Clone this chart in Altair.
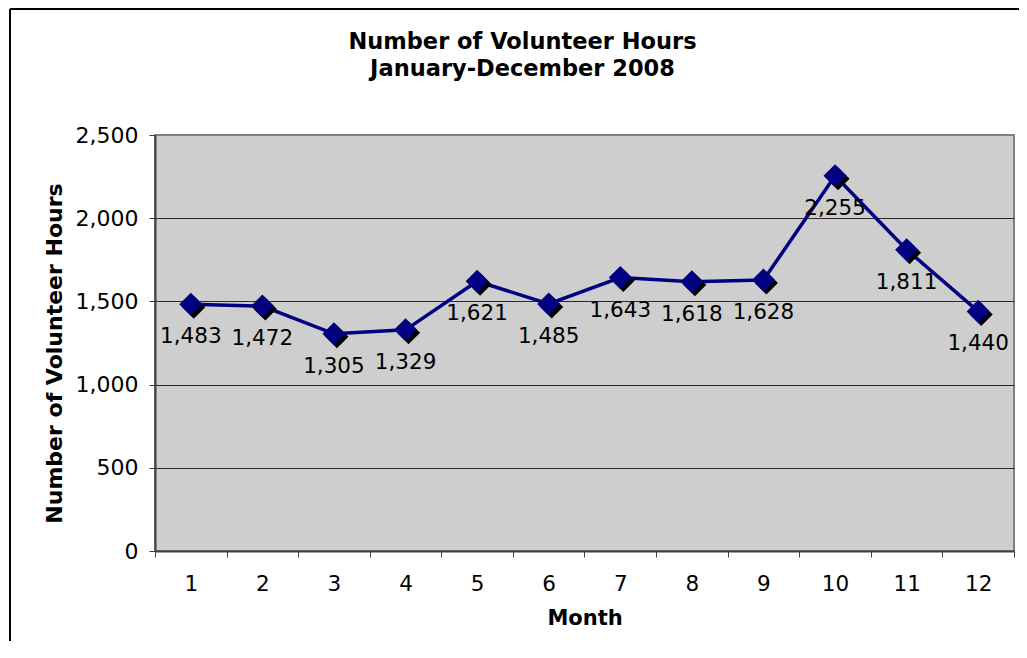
import altair as alt
import pandas as pd

months = [1, 2, 3, 4, 5, 6, 7, 8, 9, 10, 11, 12]
hours = [1483, 1472, 1305, 1329, 1621, 1485, 1643, 1618, 1628, 2255, 1811, 1440]
y_ticks = [0, 500, 1000, 1500, 2000, 2500]

df = pd.DataFrame({"month": months, "hours": hours})

FONT = "DejaVu Sans"
NAVY = "#000080"
W, H = 859, 416
PAD = {"left": 147, "top": 127, "right": 5, "bottom": 90}

x_enc = alt.X(
    "month:O",
    bandPosition=0.5,
    scale=alt.Scale(type="band", paddingInner=0, paddingOuter=0),
    axis=alt.Axis(
        title="Month",
        labelAngle=0,
        tickBand="extent",
        grid=False,
        tickSize=6,
        tickColor="#404040",
        domainColor="#404040",
        domainWidth=2,
        labelPadding=16,
        labelFont=FONT,
        labelFontSize=21.5,
        labelColor="black",
        titleFont=FONT,
        titleFontSize=21,
        titleFontWeight="bold",
        titleColor="black",
        titleX=W / 2,
        titleY=67,
        titleBaseline="middle",
        titleAlign="center",
    ),
)
y_enc = alt.Y(
    "hours:Q",
    scale=alt.Scale(domain=[0, 2500], nice=False),
    axis=alt.Axis(
        title="Number of Volunteer Hours",
        values=y_ticks,
        format=",.0f",
        tickSize=6,
        tickColor="#404040",
        domainColor="#404040",
        domainWidth=2,
        gridColor=alt.condition("datum.value >= 2500", alt.value("#808080"), alt.value("#2a2a2a")),
        gridWidth=1,
        labelPadding=11,
        labelFont=FONT,
        labelFontSize=22,
        labelColor="black",
        titleFont=FONT,
        titleFontSize=22,
        titleFontWeight="bold",
        titleColor="black",
        titleX=-101,
        titleY=218,
        titleAngle=270,
        titleBaseline="middle",
        titleAlign="center",
    ),
)

base = alt.Chart(df)

line = base.mark_line(color=NAVY, strokeWidth=3.5).encode(x=x_enc, y=y_enc)
shadow = base.mark_point(shape="diamond", filled=True, color="black", opacity=1, size=530, xOffset=3, yOffset=3).encode(x=x_enc, y=y_enc)
pts = base.mark_point(shape="diamond", filled=True, color=NAVY, opacity=1, size=530).encode(x=x_enc, y=y_enc)
labels = base.mark_text(font=FONT, fontSize=21.5, color="black", dy=33, baseline="middle", align="center").encode(
    x=x_enc, y=y_enc, text=alt.Text("hours:Q", format=",")
)

frame_data = alt.Data(values=[{"k": 0}])
frame_top = alt.Chart(frame_data).mark_rule(color="black", strokeWidth=2).encode(
    x=alt.value(-145), x2=alt.value(W + PAD["right"]), y=alt.value(-126)
)
frame_left = alt.Chart(frame_data).mark_rule(color="black", strokeWidth=2).encode(
    x=alt.value(-145), y=alt.value(-126), y2=alt.value(H + PAD["bottom"])
)

chart = (
    alt.layer(frame_top, frame_left, line, shadow, pts, labels)
    .properties(
        width=W,
        height=H,
        autosize=alt.AutoSizeParams(type="none"),
        padding=PAD,
        title=alt.TitleParams(
            text=["Number of Volunteer Hours", "January-December 2008"],
            font=FONT,
            fontSize=22.5,
            fontWeight="bold",
            color="black",
            anchor="middle",
            dx=-62,
            offset=-72,
            lineHeight=27,
        ),
    )
    .configure_view(fill="#CECECE", stroke="#808080", strokeWidth=2)
)

chart.save("out.html", embed_options={"renderer": "svg", "actions": False})
